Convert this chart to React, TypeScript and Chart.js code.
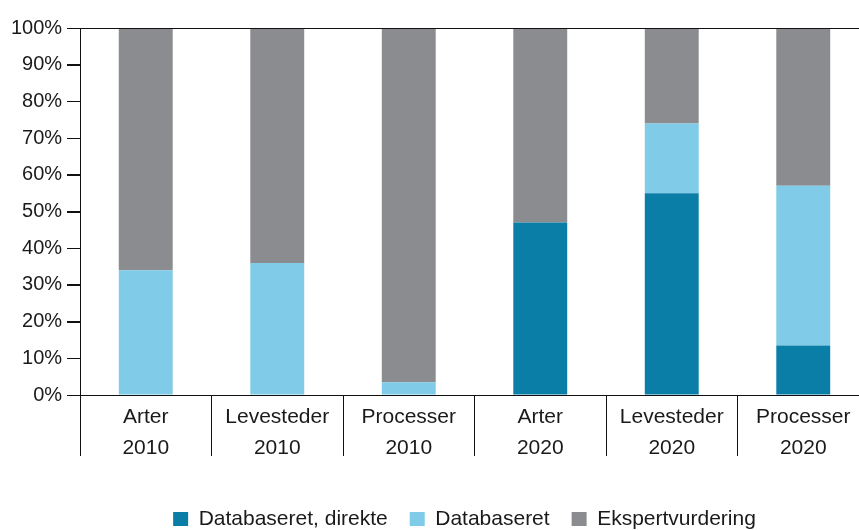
import React, { useEffect, useRef } from "react";
import { Chart, registerables } from "chart.js";

Chart.register(...registerables);

const categories: string[][] = [
  ["Arter", "2010"],
  ["Levesteder", "2010"],
  ["Processer", "2010"],
  ["Arter", "2020"],
  ["Levesteder", "2020"],
  ["Processer", "2020"],
];
const seriesNames = ["Databaseret, direkte", "Databaseret", "Ekspertvurdering"];
const direkte = [0, 0, 0, 47, 55, 13.5];
const databaseret = [34, 36, 3.5, 0, 19, 43.5];
const ekspert = [66, 64, 96.5, 53, 26, 43];
const yStep = 10;
const colors = ["#0b7ea8", "#7fcbe8", "#8b8c90"];

const yTickMarks = {
  id: "yTickMarks",
  afterDraw(chart: any) {
    const s = chart.scales.y;
    const ctx = chart.ctx;
    ctx.save();
    ctx.strokeStyle = "#111";
    ctx.lineWidth = 1;
    s.ticks.forEach((t: any) => {
      const y = Math.round(s.getPixelForValue(t.value)) + 0.5;
      ctx.beginPath();
      ctx.moveTo(s.right - 13, y);
      ctx.lineTo(s.right, y);
      ctx.stroke();
    });
    ctx.restore();
  },
};

export default function App() {
  const ref = useRef<HTMLCanvasElement | null>(null);
  useEffect(() => {
    if (!ref.current) return;
    const family = "'Liberation Sans', Arial, sans-serif";
    const font = { family, size: 20 };
    const font21 = { family, size: 21 };
    const chart = new Chart(ref.current, {
      type: "bar",
      plugins: [yTickMarks],
      data: {
        labels: categories,
        datasets: [direkte, databaseret, ekspert].map((d, i) => ({
          label: seriesNames[i],
          data: d,
          backgroundColor: colors[i],
          borderWidth: 0,
          categoryPercentage: 1,
          barPercentage: 0.41,
        })),
      },
      options: {
        animation: false,
        responsive: true,
        maintainAspectRatio: false,
        layout: { padding: { left: 60, top: 28, right: 0, bottom: -9.5 } },
        plugins: {
          tooltip: { enabled: false },
          legend: {
            position: "bottom",
            labels: {
              boxWidth: 15,
              boxHeight: 14,
              padding: 22,
              color: "#1a1a1a",
              font: font21,
            },
          },
        },
        scales: {
          x: {
            stacked: true,
            offset: true,
            afterFit: (s: any) => {
              s.height = 91.5;
            },
            grid: {
              offset: true,
              drawOnChartArea: false,
              color: "#111",
              tickLength: 61,
              lineWidth: 1,
            },
            border: { color: "#111", width: 1, z: 1 },
            ticks: {
              color: "#1a1a1a",
              font: { ...font21, lineHeight: 31 / 21 },
              padding: -54,
              maxRotation: 0,
              autoSkip: false,
            },
          },
          xTop: {
            type: "category",
            position: "top",
            offset: true,
            afterFit: (s: any) => {
              s.height = 0;
            },
            grid: { display: false, drawTicks: false },
            ticks: { display: false },
            border: { display: true, color: "#111", width: 1, z: 1 },
          },
          y: {
            stacked: true,
            min: 0,
            max: 100,
            afterFit: (s: any) => {
              s.width = 20;
            },
            grid: {
              drawOnChartArea: false,
              color: "#111",
              tickLength: 13,
              lineWidth: 1,
            },
            border: { color: "#111", width: 1, z: 1 },
            ticks: {
              stepSize: yStep,
              color: "#1a1a1a",
              font,
              mirror: true,
              crossAlign: "far",
              padding: -69,
              callback: (v: any) => v + "%",
            },
          },
        },
      },
    });
    return () => chart.destroy();
  }, []);
  return (
    <div style={{ position: "fixed", left: 0, top: 0, width: 869, height: 530, background: "#fff" }}>
      <canvas ref={ref} />
    </div>
  );
}
